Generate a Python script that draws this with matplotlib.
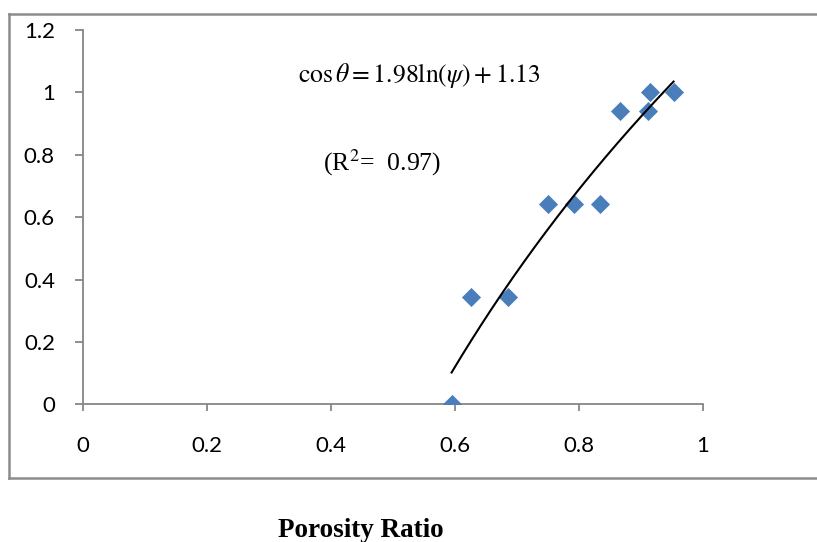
import matplotlib
matplotlib.use("Agg")
import matplotlib.pyplot as plt
import numpy as np
from matplotlib.lines import Line2D

# Data
porosity = [0.595, 0.626, 0.686, 0.751, 0.793, 0.834, 0.867, 0.911, 0.915, 0.953]
cos_theta = [0.0, 0.343, 0.343, 0.643, 0.643, 0.643, 0.939, 0.939, 1.0, 1.0]
fit_a = 1.98
fit_b = 1.13
x_ticks = [0, 0.2, 0.4, 0.6, 0.8, 1]
x_tick_labels = ["0", "0.2", "0.4", "0.6", "0.8", "1"]
y_ticks = [0, 0.2, 0.4, 0.6, 0.8, 1.0, 1.2]
y_tick_labels = ["0", "0.2", "0.4", "0.6", "0.8", "1", "1.2"]

W, H = 817, 542
fig = plt.figure(figsize=(W / 100, H / 100), dpi=100)
ax = fig.add_axes([82.7 / W, 1 - 404.3 / H, (702.7 - 82.7) / W, (404.3 - 30) / H])

gray = "#868686"
ax.scatter(porosity, cos_theta, marker="D", s=95, color="#4a7ebb", zorder=3, linewidths=0)

xf = np.linspace(min(porosity), max(porosity), 200)
ax.plot(xf, fit_a * np.log(xf) + fit_b, color="black", lw=1.5, zorder=4)

ax.set_xlim(0, 1)
ax.set_ylim(0, 1.2)
ax.set_xticks(x_ticks)
ax.set_xticklabels(x_tick_labels)
ax.set_yticks(y_ticks)
ax.set_yticklabels(y_tick_labels)
for s in ["top", "right"]:
    ax.spines[s].set_visible(False)
for s in ["left", "bottom"]:
    ax.spines[s].set_color(gray)
    ax.spines[s].set_linewidth(1.3)
ax.tick_params(axis="y", direction="out", length=6, width=1.3, color=gray, pad=14,
               labelsize=16)
ax.tick_params(axis="x", direction="out", length=5, width=1.3, color=gray, pad=18,
               labelsize=16)
for lab in ax.get_xticklabels() + ax.get_yticklabels():
    lab.set_fontfamily("Lato")

plt.rcParams["mathtext.fontset"] = "stix"
fig.text(298 / W, 1 - 82 / H, r"$\cos\theta = 1.98\ln(\psi) + 1.13$",
         fontsize=18.5, family="Liberation Serif", ha="left", va="baseline")
fig.text(323 / W, 1 - 170 / H, r"(R$^{2}$=  0.97)", fontsize=18.5,
         family="Liberation Serif", ha="left", va="baseline")
fig.text(361 / W, 1 - 537 / H, "Porosity Ratio", fontsize=19.5, fontweight="bold",
         family="Liberation Serif", ha="center", va="baseline")

# outer border (left, top, bottom)
bx0, by0, by1 = 9 / W, 1 - 477.5 / H, 1 - 14 / H
for xs, ys in [([bx0, bx0], [by0, by1]), ([bx0, 1.0], [by1, by1]), ([bx0, 1.0], [by0, by0])]:
    fig.add_artist(Line2D(xs, ys, transform=fig.transFigure, color="#8c8c8c", lw=1.8))

fig.savefig("out.png", dpi=100)
